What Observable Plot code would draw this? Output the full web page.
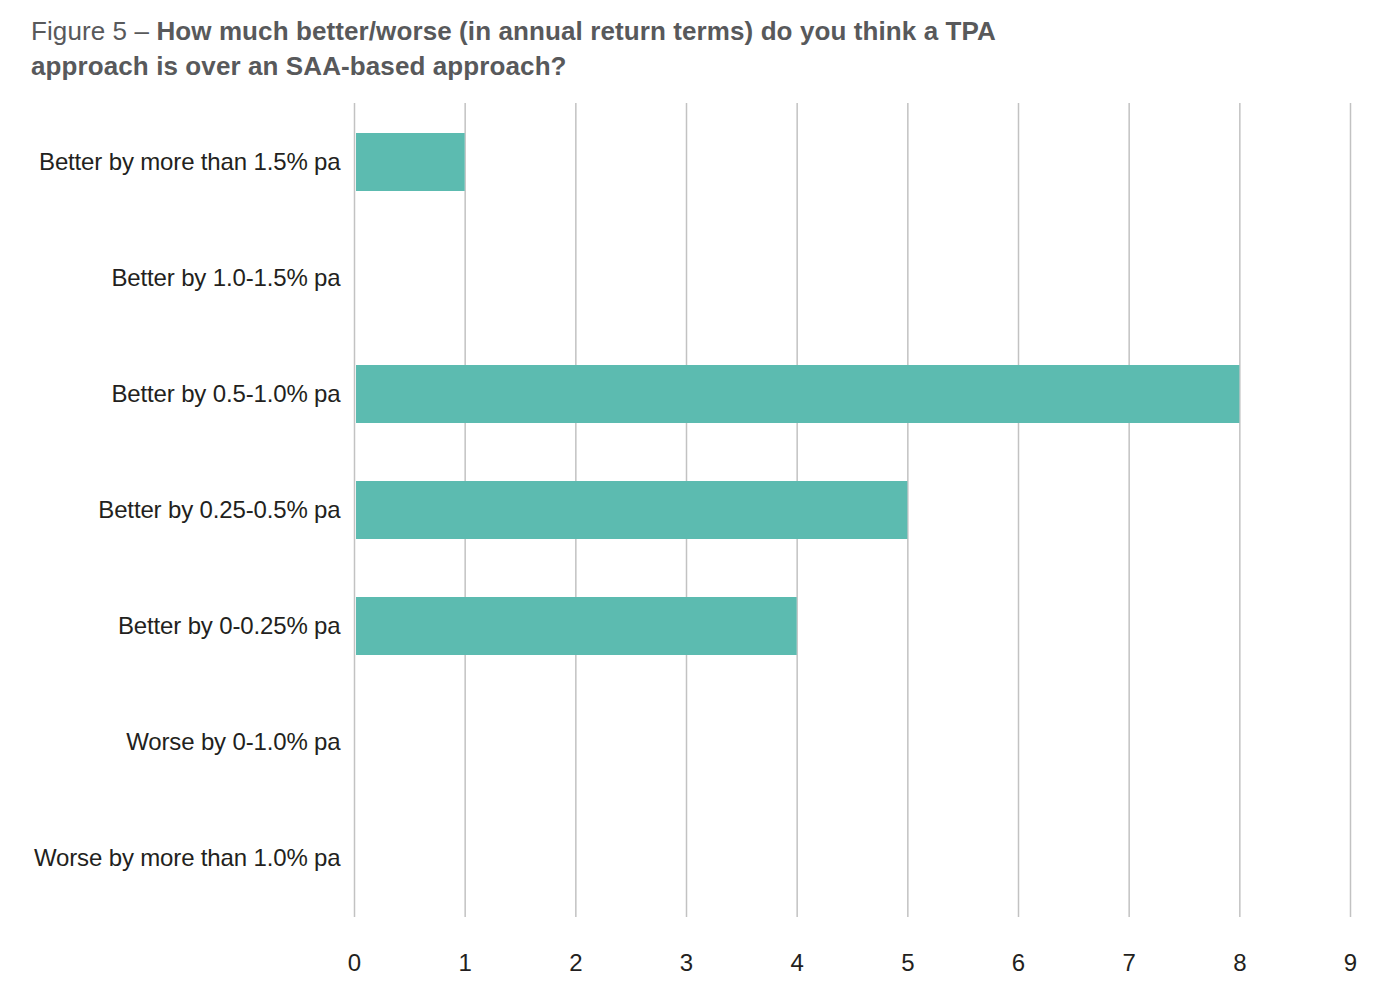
<!DOCTYPE html>
<html>
<head>
<meta charset="utf-8">
<script src="https://cdn.jsdelivr.net/npm/d3@7"></script>
<script src="https://cdn.jsdelivr.net/npm/@observablehq/plot@0.6"></script>
<style>
  body { margin: 0; background: #fff; font-family: "Liberation Sans", Arial, sans-serif; }
  #title { position: absolute; left: 31px; top: 14px; font-size: 26px; line-height: 35px; color: #58595b; letter-spacing: 0.1px; }
  #title b { font-weight: bold; }
  #chart { position: absolute; left: 0; top: 90px; }
</style>
</head>
<body>
<div id="title">Figure 5 – <b>How much better/worse (in annual return terms) do you think a TPA<br>approach is over an SAA-based approach?</b></div>
<div id="chart"></div>
<script>
const categories = [
  "Better by more than 1.5% pa",
  "Better by 1.0-1.5% pa",
  "Better by 0.5-1.0% pa",
  "Better by 0.25-0.5% pa",
  "Better by 0-0.25% pa",
  "Worse by 0-1.0% pa",
  "Worse by more than 1.0% pa"
];
const counts = [1, 0, 8, 5, 4, 0, 0];
const xTicks = [0, 1, 2, 3, 4, 5, 6, 7, 8, 9];

const data = categories.map((c, i) => ({category: c, count: counts[i]}));

const plot = Plot.plot({
  width: 1394,
  height: 904,
  marginLeft: 354,
  marginRight: 44,
  marginTop: 13,
  marginBottom: 77,
  style: { fontFamily: "Liberation Sans, Arial, sans-serif", fontSize: "24px", color: "#231f20", background: "#fff" },
  x: { domain: [0, 9], ticks: xTicks, label: null, tickSize: 0 },
  y: { domain: categories, label: null, paddingInner: 0.5, paddingOuter: 0.25, tickSize: 0 },
  marks: [
    Plot.gridX(xTicks, { stroke: "#c2c2c2", strokeOpacity: 1, strokeWidth: 1.5 }),
    Plot.barX(data.filter(d => d.count > 0), { x1: 0, x2: "count", y: "category", fill: "#5cbbb0", insetLeft: 2 }),
    Plot.axisX({ ticks: xTicks, tickSize: 0, tickPadding: 36, fontSize: 24, label: null }),
    Plot.axisY({ tickSize: 0, tickPadding: 14, fontSize: 24, label: null })
  ]
});
document.getElementById("chart").appendChild(plot);
plot.querySelectorAll("[aria-label='y-axis tick label'] text").forEach(t => t.style.letterSpacing = "-0.15px");
</script>
</body>
</html>
